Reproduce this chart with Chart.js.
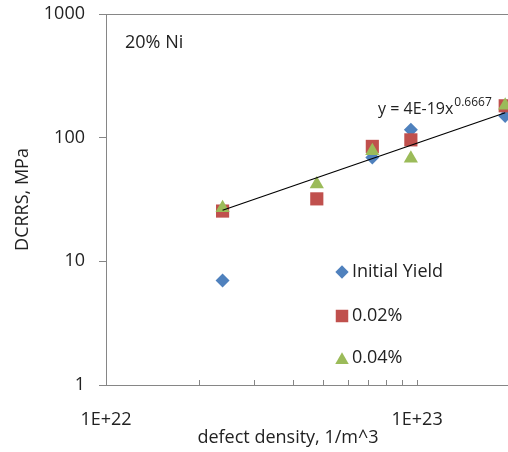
<!DOCTYPE html>
<html><head><meta charset="utf-8">
<script src="https://cdn.jsdelivr.net/npm/chart.js@4.4.1/dist/chart.umd.min.js"></script>
<style>html,body{margin:0;padding:0;background:#fff;overflow:hidden}canvas{display:block}</style>
</head><body>
<canvas id="c" width="508" height="452"></canvas>
<script>
// ---- data ----
const defectDensity = [2.37e22, 4.76e22, 7.18e22, 9.55e22, 1.92e23];
const initialYield = [7, null, 69, 116, 150];
const strain002 = [25.5, 32, 85, 96, 181];
const strain004 = [27, 42, 78, 68, 182];
const trendX = [2.37e22, 1.92e23];
const trendY = [25.9, 159];
const seriesNames = ['Initial Yield', '0.02%', '0.04%'];
const xTickValues = [1e22, 2e22, 3e22, 4e22, 5e22, 6e22, 7e22, 8e22, 9e22, 1e23];
const xLabelValues = [1e22, 1e23];
const xTickLabels = ['1E+22', '1E+23'];
const yTickValues = [1, 10, 100, 1000];
const yTickLabels = ['1', '10', '100', '1000'];
const xRange = [1e22, 1.96e23];
const yRange = [1, 1000];
const annotationText = '20% Ni';
const trendLabel = 'y = 4E-19x';
const trendExponent = '0.6667';
const xTitle = 'defect density, 1/m^3';
const yTitle = 'DCRRS, MPa';

// ---- styles ----
const FONT = "'Open Sans', 'DejaVu Sans', sans-serif";
const TEXT = '#222222';
const AXIS = '#868686';
const BLUE = '#4F81BD', RED = '#C0504D', GREEN = '#9BBB59';

const toXY = (xs, ys) => xs.map((x, i) => ({x: x, y: ys[i]})).filter(p => p.y != null);

const seriesStyles = [
  {color: BLUE, style: 'rectRot', r: 7},
  {color: RED, style: 'rect', r: 9.3},
  {color: GREEN, style: 'triangle', r: 8.2}
];

const zeroPad = s => { s.paddingTop = 0; s.paddingBottom = 0; s.paddingLeft = 0; s.paddingRight = 0; };

const overlay = {
  id: 'overlay',
  afterDatasetsDraw(chart) {
    const ctx = chart.ctx, ca = chart.chartArea;
    ctx.save();
    // top border of plot area
    ctx.strokeStyle = AXIS; ctx.lineWidth = 1;
    ctx.beginPath(); ctx.moveTo(ca.left, ca.top + 0.5); ctx.lineTo(ca.right, ca.top + 0.5); ctx.stroke();

    ctx.fillStyle = TEXT;
    ctx.textBaseline = 'middle';
    // annotation
    ctx.font = '18px ' + FONT; ctx.textAlign = 'left';
    ctx.fillText(annotationText, ca.left + 19, ca.top + 29);
    // trendline equation
    ctx.font = '16px ' + FONT;
    const ex = 378, ey = 109;
    ctx.fillText(trendLabel, ex, ey);
    const w = ctx.measureText(trendLabel).width;
    ctx.font = '12px ' + FONT;
    ctx.fillText(trendExponent, ex + w + 1, ey - 6);
    // x-axis title
    ctx.font = '18px ' + FONT; ctx.textAlign = 'center';
    ctx.fillText(xTitle, 288, 438);

    // legend
    const lx = 342, ly = [272, 316, 358];
    seriesNames.forEach((name, i) => {
      const s = seriesStyles[i];
      ctx.fillStyle = s.color; ctx.strokeStyle = s.color;
      Chart.helpers.drawPoint(ctx, {pointStyle: s.style, radius: s.r * 0.95, rotation: 0, borderWidth: 0}, lx, ly[i] + (s.style === 'triangle' ? 2 : 0));
      ctx.fillStyle = TEXT;
      ctx.font = '18px ' + FONT; ctx.textAlign = 'left';
      ctx.fillText(name, lx + 10, ly[i]);
    });
    ctx.restore();
  }
};

const mkSeries = (label, ys, i, order) => ({
  label: label,
  data: toXY(defectDensity, ys),
  pointStyle: seriesStyles[i].style,
  pointRadius: seriesStyles[i].r,
  pointHoverRadius: seriesStyles[i].r,
  backgroundColor: seriesStyles[i].color,
  borderColor: seriesStyles[i].color,
  pointBorderWidth: 0,
  showLine: false,
  clip: false,
  order: order
});

new Chart(document.getElementById('c'), {
  type: 'scatter',
  data: {
    datasets: [
      {label: 'trend', data: toXY(trendX, trendY), showLine: true, borderColor: '#000', borderWidth: 1.2, pointRadius: 0, order: -1, clip: false},
      mkSeries(seriesNames[0], initialYield, 0, 2),
      mkSeries(seriesNames[1], strain002, 1, 1),
      mkSeries(seriesNames[2], strain004, 2, 0)
    ]
  },
  options: {
    responsive: false,
    devicePixelRatio: 1,
    animation: false,
    layout: {autoPadding: false, padding: {top: 14, right: 0, bottom: 0, left: 0}},
    plugins: {legend: {display: false}, tooltip: {enabled: false}},
    scales: {
      x: {
        type: 'logarithmic', position: 'bottom',
        min: xRange[0], max: xRange[1],
        afterBuildTicks: s => { s.ticks = xTickValues.map(v => ({value: v})); },
        afterFit: s => { s.height = 67; zeroPad(s); },
        grid: {drawOnChartArea: false, drawTicks: true, tickLength: -5, color: AXIS, tickColor: AXIS},
        border: {display: true, color: AXIS, width: 1},
        ticks: {
          autoSkip: false, maxRotation: 0, padding: 29, color: TEXT,
          font: {family: FONT, size: 18},
          callback: v => { const k = xLabelValues.indexOf(v); return k >= 0 ? xTickLabels[k] : ''; }
        }
      },
      y: {
        type: 'logarithmic', position: 'left',
        min: yRange[0], max: yRange[1],
        afterBuildTicks: s => { s.ticks = yTickValues.map(v => ({value: v})); },
        afterFit: s => { s.width = 106; zeroPad(s); },
        grid: {drawOnChartArea: false, drawTicks: true, tickLength: 7, color: AXIS, tickColor: AXIS},
        border: {display: true, color: AXIS, width: 1},
        title: {display: true, text: yTitle, color: TEXT, font: {family: FONT, size: 18}, padding: {top: 12, bottom: 0}},
        ticks: {
          padding: 14, color: TEXT, font: {family: FONT, size: 18},
          callback: v => { const k = yTickValues.indexOf(v); return k >= 0 ? yTickLabels[k] : ''; }
        }
      }
    }
  },
  plugins: [overlay]
});
</script>
</body></html>
